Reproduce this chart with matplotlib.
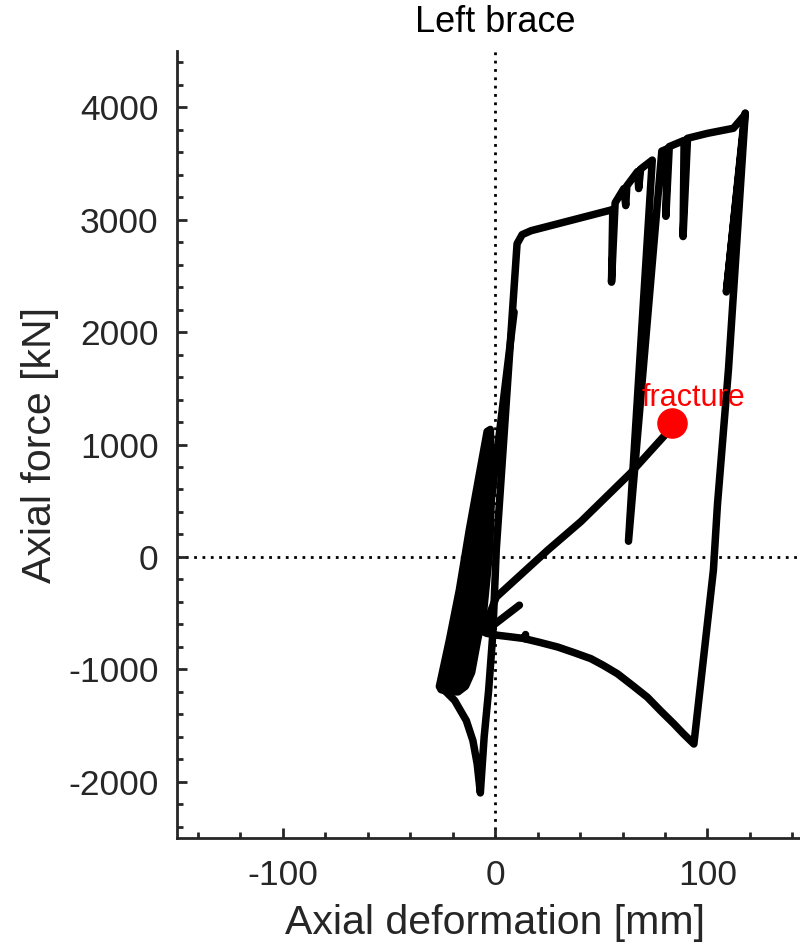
import matplotlib.pyplot as plt
from matplotlib.ticker import MultipleLocator

plt.rcParams['font.family'] = ['Liberation Sans', 'DejaVu Sans']
plt.rcParams['axes.unicode_minus'] = False

# Dense small cycles near the origin (they overlap into a solid band)
band_x = [-26.3, -21.6, -16.9, -12.2, -7.5, -3.8, -2.3, -1.6, -2.6, -5.4,
          -8.3, -11.1, -14.0, -17.5, -22.0, -25.5]
band_y = [-1152, -741, -295, 241, 732, 1116, 1134, 688, 63, -473,
          -741, -1027, -1150, -1200, -1200, -1180]

# Compression dip, steep elastic reload and yield plateau
dip_x = [-25.5, -23.8, -19.1, -13.6, -10.5, -8.5, -7.0, -5.2, -3.1, -1.1,
         0.5, 10.3, 12.7, 16.9, 55.4]
dip_y = [-1160, -1188, -1277, -1456, -1634, -1840, -2099, -1600, -1188, -679,
         63, 2786, 2867, 2902, 3090]

# Reload from the band towards the plateau
reload_x = [-2.5, 8.9]
reload_y = [400, 2179]

# Hardening envelope with partial unloadings
env_x = [55.4, 54.8, 56.5, 60.6, 61.5, 62.0, 67.1, 67.6, 68.5, 74.0,
         62.8, 78.5, 81.0, 80.4, 82.0, 89.0, 88.5, 90.6, 100.0, 112.2,
         117.5, 108.9, 117.8]
env_y = [3090, 2444, 3150, 3277, 3125, 3300, 3429, 3277, 3450, 3530,
         140, 3610, 3630, 3030, 3650, 3705, 2850, 3724, 3768, 3813,
         3930, 2357, 3947]

# Unloading from peak tension into compression (brace buckling)
comp_x = [117.8, 109.9, 104.7, 102.8, 93.6, 88.5, 84.2, 78.0, 71.7, 64.5,
          57.6, 51.0, 45.1, 37.0, 29.4, 21.0, 14.0, 14.3, 13.8, 7.0,
          1.3, -4.2]
comp_y = [3947, 1670, 464, -116, -1664, -1570, -1485, -1370, -1248, -1140,
          -1039, -965, -905, -850, -801, -760, -728, -690, -726, -710,
          -697, -679]

# Short reload stub
stub_x = [-5.2, 11.4]
stub_y = [-670, -429]

# Final tension excursion up to fracture
frac_x = [-5.6, 0.5, 24.9, 40.4, 63.8, 79.5, 83.4]
frac_y = [-652, -357, 63, 315, 747, 1074, 1188]

fig = plt.figure(figsize=(8, 9.47), dpi=100)
ax = fig.add_axes([0.221, 0.1151, 0.796, 0.831])

line_kw = dict(color='black', lw=5.4, solid_capstyle='round',
               solid_joinstyle='round')

ax.axhline(0, color='black', lw=2, ls=(0, (1, 2)), zorder=1)
ax.axvline(0, color='black', lw=2, ls=(0, (1, 2)), zorder=1)

ax.fill(band_x, band_y, color='black', lw=5.4, joinstyle='round', zorder=2)
for xs, ys in [(dip_x, dip_y), (reload_x, reload_y), (env_x, env_y),
               (comp_x, comp_y), (stub_x, stub_y), (frac_x, frac_y)]:
    ax.plot(xs, ys, zorder=3, **line_kw)

ax.plot(frac_x[-1], frac_y[-1], 'o', color='red', markersize=21, zorder=4)
ax.text(frac_x[-1] + 10, frac_y[-1] + 90, 'fracture', color='red',
        fontsize=22, ha='center', va='bottom', zorder=5)

ax.set_xlim(-150, 150)
ax.set_ylim(-2500, 4500)
ax.xaxis.set_major_locator(MultipleLocator(100))
ax.xaxis.set_minor_locator(MultipleLocator(20))
ax.yaxis.set_major_locator(MultipleLocator(1000))
ax.yaxis.set_minor_locator(MultipleLocator(200))

for side in ['top', 'right']:
    ax.spines[side].set_visible(False)
for side in ['left', 'bottom']:
    ax.spines[side].set_linewidth(2)
    ax.spines[side].set_color('#262626')

ax.tick_params(which='both', direction='in', width=2, color='#262626',
               labelcolor='#262626', labelsize=25.5)
ax.tick_params(which='major', length=7.2)
ax.tick_params(which='minor', length=4)
ax.tick_params(axis='x', pad=15)
ax.tick_params(axis='y', pad=13)

ax.set_xlabel('Axial deformation [mm]', fontsize=29.5, color='#262626',
              labelpad=9)
ax.set_ylabel('Axial force [kN]', fontsize=29.5, color='#262626',
              labelpad=7)
ax.set_title('Left brace', fontsize=26, color='black', pad=14)

fig.savefig('out.png', dpi=100)
